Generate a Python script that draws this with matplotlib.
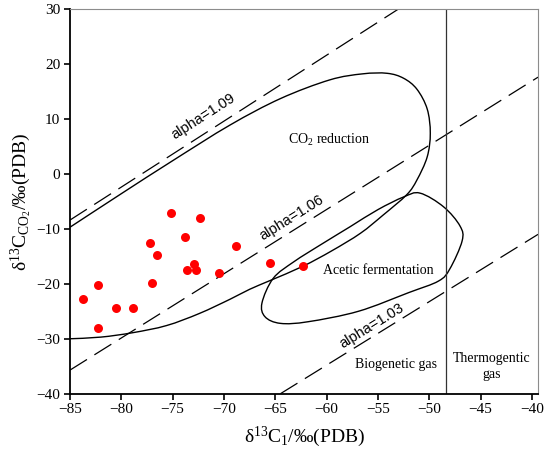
import numpy as np
import matplotlib
matplotlib.use("Agg")
import matplotlib.pyplot as plt
from matplotlib.path import Path
from matplotlib.patches import PathPatch

plt.rcParams['font.family'] = ['Liberation Serif', 'DejaVu Serif']
plt.rcParams['mathtext.fontset'] = 'custom'
plt.rcParams['mathtext.rm'] = 'Liberation Serif'
plt.rcParams['mathtext.it'] = 'Liberation Serif:italic'

## DATA

# samples: d13C1 vs d13C_CO2
c1 = [-83.7, -82.3, -82.3, -80.5, -78.9, -77.2, -77.0, -76.5, -75.2,
      -73.8, -73.6, -72.9, -72.7, -72.3, -70.5, -68.8, -65.5, -62.3]
cco2 = [-22.7, -20.3, -28.0, -24.4, -24.4, -12.6, -19.9, -14.8, -7.1,
        -11.4, -17.5, -16.4, -17.5, -8.0, -18.1, -13.2, -16.2, -16.7]

# fractionation lines (end points)
alpha_labels = ['alpha=1.09', 'alpha=1.06', 'alpha=1.03']
alpha_x = [[-85, -53.0], [-85, -39.4], [-64.5, -39.4]]
alpha_y = [[-8.4, 30.0], [-35.7, 17.6], [-40.0, -11.0]]

# CO2 reduction field outline
co2_x = [-85, -80, -75, -69.4, -64.5, -59.7, -56.5, -54.1, -52.5, -51.2,
         -50.2, -49.9, -50.2, -51.2, -52.2, -54.5, -56.7, -59.5, -62.3,
         -65.5, -67.5, -69.4, -72.4, -75.6, -78.9, -82, -85]
co2_y = [-9.7, -3.6, 2.4, 8.9, 13.7, 17.1, 18.2, 18.3, 17.4, 15.4,
         11.8, 7.4, 3.1, -1.1, -3.8, -7.5, -10.8, -14.0, -16.8,
         -19.4, -21.0, -22.8, -25.4, -27.6, -28.9, -29.7, -30.0]

# acetic fermentation field outline (closed)
ace_x = [-50.9, -48.6, -47.0, -46.8, -48.0, -49.1, -52.0, -56.9, -61.8,
         -64.5, -66.0, -66.3, -65.2, -63.2, -60.5, -57.7, -55.0, -52.5]
ace_y = [-3.5, -6.0, -9.5, -12.2, -17.3, -19.5, -21.6, -25.0, -26.9,
         -27.2, -26.0, -23.5, -19.0, -16.0, -12.8, -9.6, -6.5, -4.2]

boundary_x = -48.4


def smooth_path(xs, ys, closed=False):
    # catmull-rom through the points, drawn as cubic beziers
    pts = np.column_stack([xs, ys]).astype(float)
    n = len(pts)
    if closed:
        ext = np.vstack([pts[-1], pts, pts[0], pts[1]])
    else:
        ext = np.vstack([pts[0], pts, pts[-1]])
    verts = [pts[0]]
    codes = [Path.MOVETO]
    segs = n if closed else n - 1
    for i in range(segs):
        p0, p1, p2, p3 = ext[i], ext[i + 1], ext[i + 2], ext[i + 3]
        verts += [p1 + (p2 - p0) / 6, p2 - (p3 - p1) / 6, p2]
        codes += [Path.CURVE4] * 3
    return Path(np.array(verts), codes)


fig = plt.figure(figsize=(5.5, 4.62), dpi=100)
ax = fig.add_axes([0.1273, 0.1478, 0.851, 0.8327])

for xs, ys in zip(alpha_x, alpha_y):
    ax.plot(xs, ys, color='black', lw=0.9, dashes=(16, 7))

ax.add_patch(PathPatch(smooth_path(co2_x, co2_y), fc='none', ec='black', lw=1.0))
ax.add_patch(PathPatch(smooth_path(ace_x, ace_y, closed=True), fc='none', ec='black', lw=1.0))
ax.axvline(boundary_x, color='#333333', lw=0.9)

ax.scatter(c1, cco2, s=42, color='#ff0000', zorder=5, linewidths=0)

sans = ['Liberation Sans', 'DejaVu Sans']
ax.text(-72.0, 10.4, alpha_labels[0], rotation=32.7, family=sans, fontsize=10.5,
        ha='center', va='center', rotation_mode='anchor')
ax.text(-63.4, -8.0, alpha_labels[1], rotation=32, family=sans, fontsize=10.5,
        ha='center', va='center', rotation_mode='anchor')
ax.text(-55.6, -27.6, alpha_labels[2], rotation=31.7, family=sans, fontsize=10.5,
        ha='center', va='center', rotation_mode='anchor')

ax.text(-59.8, 6.2, 'CO$_2$ reduction', fontsize=10, ha='center', va='center')
ax.text(-55.0, -17.6, 'Acetic fermentation', fontsize=10, ha='center', va='center')
ax.text(-53.2, -34.7, 'Biogenetic gas', fontsize=10, ha='center', va='center')
ax.text(-43.9, -35.0, 'Thermogentic\ngas', fontsize=10, ha='center', va='center',
        linespacing=1.3)

ax.set_xlim(-85, -39.4)
ax.set_ylim(-40, 30)
ax.set_xticks(np.arange(-85, -39, 5))
ax.set_yticks(np.arange(-40, 31, 10))
ax.tick_params(direction='out', length=4, width=1.2, labelsize=11, pad=3)

for side in ['left', 'bottom']:
    ax.spines[side].set_linewidth(1.3)
for side in ['top', 'right']:
    ax.spines[side].set_color('#8c8c8c')
    ax.spines[side].set_linewidth(0.8)

ax.set_xlabel('δ$^{13}$C$_1$/‰(PDB)', fontsize=14, labelpad=6)
ax.set_ylabel('δ$^{13}$C$_{\\mathrm{CO_2}}$/‰(PDB)', fontsize=14, labelpad=2)

fig.savefig('out.png', dpi=100)
